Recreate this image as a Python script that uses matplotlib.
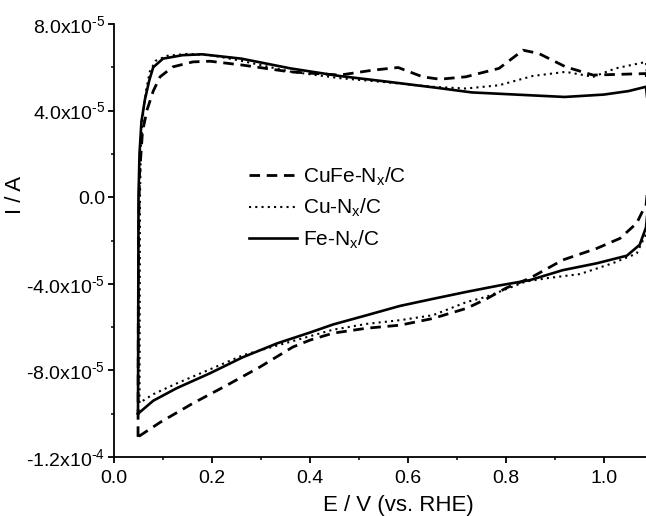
import matplotlib
matplotlib.use("Agg")
import matplotlib.pyplot as plt
from matplotlib.ticker import MultipleLocator, FixedLocator

plt.rcParams['font.family'] = ['Liberation Sans', 'DejaVu Sans']
plt.rcParams['mathtext.fontset'] = 'custom'
plt.rcParams['mathtext.rm'] = 'Liberation Sans'
plt.rcParams['mathtext.it'] = 'Liberation Sans'

# ---- data (I in units of 1e-5 A) ----
# CuFe-Nx/C (dashed)
cufe_up_x = [0.049, 0.050, 0.052, 0.058, 0.067, 0.080, 0.094, 0.120, 0.161, 0.196, 0.263, 0.359,
             0.461, 0.529, 0.580, 0.630, 0.665, 0.718, 0.786, 0.835, 0.867, 0.922, 0.978, 1.024, 1.086, 1.10]
cufe_up_y = [-11.07, -2.0, 1.0, 3.0, 4.0, 4.9, 5.56, 6.02, 6.25, 6.28, 6.1, 5.79,
             5.64, 5.87, 5.99, 5.56, 5.45, 5.56, 5.95, 6.79, 6.64, 6.02, 5.64, 5.67, 5.71, 3.0]
cufe_dn_x = [1.10, 1.086, 1.080, 1.067, 1.033, 0.986, 0.916, 0.849, 0.800, 0.760, 0.720, 0.651, 0.584,
             0.516, 0.447, 0.400, 0.365, 0.298, 0.230, 0.161, 0.094, 0.049]
cufe_dn_y = [3.0, -0.4, -0.6, -1.2, -1.9, -2.36, -2.9, -3.74, -4.2, -4.7, -5.13, -5.6, -5.91,
             -6.05, -6.28, -6.6, -6.92, -7.84, -8.69, -9.52, -10.4, -11.07]

# Cu-Nx/C (dotted)
cu_up_x = [0.052, 0.053, 0.055, 0.060, 0.066, 0.073, 0.085, 0.108, 0.150, 0.200, 0.260, 0.360,
           0.460, 0.560, 0.650, 0.718, 0.786, 0.855, 0.922, 0.978, 1.024, 1.086, 1.10]
cu_up_y = [-9.5, 0.0, 2.5, 4.0, 5.0, 5.8, 6.3, 6.53, 6.62, 6.55, 6.3, 5.8,
           5.5, 5.3, 5.1, 5.02, 5.17, 5.6, 5.79, 5.56, 5.95, 6.25, 2.0]
cu_dn_x = [1.10, 1.086, 1.067, 1.018, 0.951, 0.884, 0.840, 0.800, 0.760, 0.720, 0.651, 0.584, 0.516,
           0.447, 0.400, 0.333, 0.263, 0.196, 0.128, 0.080, 0.052]
cu_dn_y = [2.0, -1.7, -2.6, -3.05, -3.55, -3.74, -3.9, -4.25, -4.6, -4.84, -5.45, -5.68, -5.85,
           -6.12, -6.42, -6.85, -7.3, -7.95, -8.6, -9.1, -9.5]

# Fe-Nx/C (solid)
fe_up_x = [0.049, 0.050, 0.052, 0.056, 0.063, 0.072, 0.080, 0.100, 0.140, 0.180, 0.260, 0.360,
           0.460, 0.560, 0.660, 0.730, 0.820, 0.920, 1.000, 1.050, 1.086, 1.10]
fe_up_y = [-10.0, 0.0, 2.0, 3.5, 4.5, 5.4, 6.0, 6.4, 6.56, 6.6, 6.4, 5.95,
           5.6, 5.33, 5.05, 4.84, 4.74, 4.63, 4.74, 4.9, 5.1, 2.0]
fe_dn_x = [1.10, 1.086, 1.073, 1.047, 0.986, 0.916, 0.849, 0.788, 0.720, 0.650, 0.584, 0.516, 0.447,
           0.400, 0.333, 0.263, 0.196, 0.128, 0.080, 0.049]
fe_dn_y = [2.0, -1.4, -2.2, -2.7, -3.05, -3.37, -3.83, -4.07, -4.37, -4.7, -5.02, -5.45, -5.88,
           -6.25, -6.75, -7.39, -8.13, -8.82, -9.4, -10.0]

labels = ['CuFe-N$_x$/C', 'Cu-N$_x$/C', 'Fe-N$_x$/C']
x_ticks = [0.0, 0.2, 0.4, 0.6, 0.8, 1.0]
x_ticklabels = ['0.0', '0.2', '0.4', '0.6', '0.8', '1.0']
y_ticks = [-12e-5, -8e-5, -4e-5, 0.0, 4e-5, 8e-5]
y_ticklabels = ['-1.2x10$^{\\text{-4}}$', '-8.0x10$^{\\text{-5}}$', '-4.0x10$^{\\text{-5}}$', '0.0',
                '4.0x10$^{\\text{-5}}$', '8.0x10$^{\\text{-5}}$']

scale = 1e-5
fig = plt.figure(figsize=(6.46, 5.16), dpi=100)
ax = fig.add_axes([0.1765, 0.1143, 0.8235, 0.8392])

def loop(xu, yu, xd, yd):
    return list(xu) + list(xd), [v * scale for v in list(yu) + list(yd)]

x, y = loop(cufe_up_x, cufe_up_y, cufe_dn_x, cufe_dn_y)
ax.plot(x, y, color='black', lw=2.0, linestyle=(0, (3.8, 2.4)), label=labels[0])
x, y = loop(cu_up_x, cu_up_y, cu_dn_x, cu_dn_y)
ax.plot(x, y, color='black', lw=1.5, linestyle=(0, (1, 2.0)), label=labels[1])
x, y = loop(fe_up_x, fe_up_y, fe_dn_x, fe_dn_y)
ax.plot(x, y, color='black', lw=1.9, linestyle='-', label=labels[2])

ax.set_xlim(0, 1.086)
ax.set_ylim(-1.2e-4, 8e-5)
ax.xaxis.set_major_locator(FixedLocator(x_ticks))
ax.set_xticklabels(x_ticklabels)
ax.xaxis.set_minor_locator(MultipleLocator(0.1))
ax.yaxis.set_major_locator(FixedLocator(y_ticks))
ax.set_yticklabels(y_ticklabels)
ax.yaxis.set_minor_locator(MultipleLocator(2e-5))

for s in ['top', 'right']:
    ax.spines[s].set_visible(False)
for s in ['left', 'bottom']:
    ax.spines[s].set_linewidth(1.3)
ax.tick_params(which='major', direction='out', length=4.5, width=1.3, labelsize=14)
ax.tick_params(axis='x', which='major', pad=5)
ax.tick_params(axis='y', which='major', pad=2)
ax.tick_params(which='minor', direction='out', length=2.5, width=1.1)

ax.set_xlabel('E / V (vs. RHE)', fontsize=16)
ax.xaxis.set_label_coords(0.534, -0.087)
ax.set_ylabel('I / A', fontsize=16)
ax.yaxis.set_label_coords(-0.165, 0.605)

ax.legend(loc='center left', bbox_to_anchor=(0.254, 0.575), frameon=False, fontsize=15,
          borderaxespad=0, borderpad=0,
          handlelength=2.3, handletextpad=0.3, labelspacing=0.45)

fig.savefig('out.png', dpi=100)
